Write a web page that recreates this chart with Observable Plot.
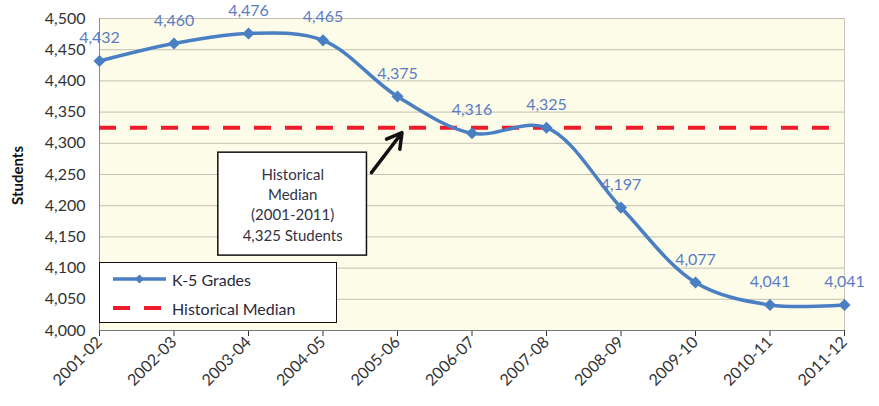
<!DOCTYPE html>
<html><head><meta charset="utf-8">
<script src="https://cdn.jsdelivr.net/npm/d3@7"></script>
<script src="https://cdn.jsdelivr.net/npm/@observablehq/plot@0.6"></script>
<style>
body{margin:0;background:#fff;font-family:Lato,"Noto Sans",sans-serif}
#wrap{position:relative;width:879px;height:406px}
.legend{position:absolute;left:99px;top:262px;width:236px;height:59px;border:1.5px solid #111;background:#fff;font-size:16px;color:#2a2a3a}
.legend .row{position:absolute;left:0;height:20px;display:flex;align-items:center}
.legend svg{display:block}
.legend span{margin-left:5px}
</style></head><body><div id="wrap"></div>
<script>
const years = ["2001-02","2002-03","2003-04","2004-05","2005-06","2006-07","2007-08","2008-09","2009-10","2010-11","2011-12"];
const students = [4432,4460,4476,4465,4375,4316,4325,4197,4077,4041,4041];
const median = 4325;
const yTicks = [4000,4050,4100,4150,4200,4250,4300,4350,4400,4450,4500];
const seriesName = "K-5 Grades";
const medianName = "Historical Median";
const yTitle = "Students";
const noteText = "Historical\nMedian\n(2001-2011)\n4,325 Students";

const data = years.map((y, i) => ({i, year: y, v: students[i]}));
const lineColor = "#4a7fc4";
const labelColor = "#5a7cc6";
const red = "#ee1c2a";

const chart = Plot.plot({
  width: 879, height: 406,
  marginLeft: 99, marginRight: 35, marginTop: 18, marginBottom: 76,
  style: {fontFamily: "Lato, 'Noto Sans', sans-serif", fontSize: "16px", color: "#333", background: "#fff", overflow: "visible"},
  x: {domain: [0, years.length - 1], ticks: d3.range(years.length), tickFormat: i => years[i], tickRotate: -45, tickSize: 6, tickPadding: 3, label: null},
  y: {domain: [4000, 4500], ticks: yTicks, tickFormat: d3.format(","), tickSize: 0, tickPadding: 14, label: null},
  marks: [
    Plot.rect([0], {x1: 0, x2: years.length - 1, y1: 4000, y2: 4500, fill: "#fdfce8"}),
    Plot.gridY(yTicks, {stroke: "#c2c0b0", strokeOpacity: 1, strokeWidth: 1}),
    Plot.ruleX([years.length - 1], {stroke: "#c8c8c0"}),
    Plot.ruleX([0], {stroke: "#8a8a8a"}),
    Plot.ruleY([4000], {stroke: "#777"}),
    Plot.ruleY([median], {x1: 0, x2: years.length - 1.15, stroke: red, strokeWidth: 4, strokeDasharray: "17,14"}),
    Plot.line(data, {x: "i", y: "v", curve: "catmull-rom", stroke: lineColor, strokeWidth: 3.5}),
    Plot.dot(data, {x: "i", y: "v", symbol: "diamond2", r: 4.5, fill: lineColor, stroke: lineColor}),
    Plot.text(data, {x: "i", y: "v", text: d => d3.format(",")(d.v), dy: -23, fill: labelColor, fontSize: 16}),
    Plot.rect([0], {x1: 1.595, x2: 3.59, y1: 4120, y2: 4285, fill: "#fff", stroke: "#111", strokeWidth: 1.5}),
    Plot.text([noteText], {x: 2.593, y: 4203, text: d => d, fontSize: 15, lineHeight: 1.35, fill: "#333344"}),
    Plot.arrow([0], {x1: 3.65, y1: 4253, x2: 4.06, y2: 4317, stroke: "#111", strokeWidth: 3.5, headLength: 10}),
    Plot.text([yTitle], {frameAnchor: "left", textAnchor: "middle", dx: -81, dy: 1, rotate: -90, text: d => d, fontWeight: "bold", fontSize: 15, fill: "#111"})
  ]
});
const wrap = document.getElementById("wrap");
wrap.appendChild(chart);

const leg = document.createElement("div");
leg.className = "legend";
leg.innerHTML = `
<div class="row" style="top:6px;left:12px"><svg width="55" height="12"><line x1="1" y1="6" x2="54" y2="6" stroke="${lineColor}" stroke-width="3.5"/><path d="M27.5 1.5 L32 6 L27.5 10.5 L23 6Z" fill="${lineColor}"/></svg><span>${seriesName}</span></div>
<div class="row" style="top:35px;left:12px"><svg width="55" height="12"><line x1="1" y1="6" x2="52" y2="6" stroke="${red}" stroke-width="4" stroke-dasharray="17,14"/></svg><span>${medianName}</span></div>`;
wrap.appendChild(leg);
</script>
</body></html>
